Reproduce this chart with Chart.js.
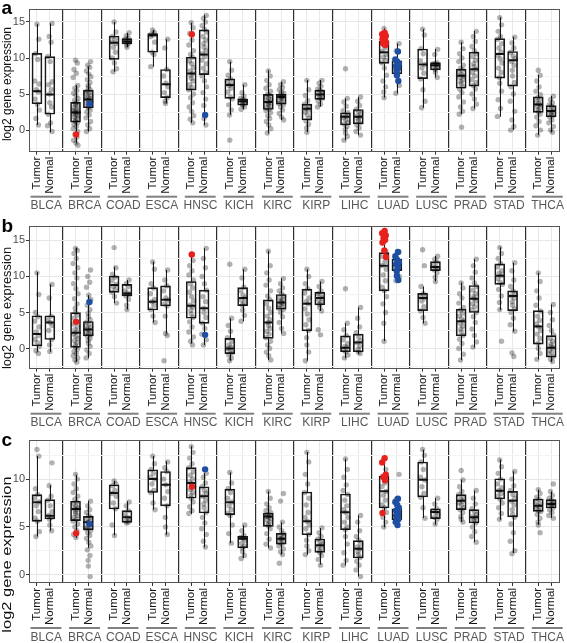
<!DOCTYPE html>
<html><head><meta charset="utf-8">
<script src="https://cdn.jsdelivr.net/npm/chart.js@4.4.1/dist/chart.umd.min.js"></script>
<style>
html,body{margin:0;padding:0;background:#fff;}
#wrap{position:relative;width:567px;height:643px;overflow:hidden;background:#fff;}
canvas{position:absolute;left:0;}
</style></head><body>
<div id="wrap">
<canvas id="pa" width="567" height="215" style="top:0px;width:567px;height:215px"></canvas>
<canvas id="pb" width="567" height="215" style="top:215px;width:567px;height:215px"></canvas>
<canvas id="pc" width="567" height="215" style="top:428px;width:567px;height:215px"></canvas>
</div>
<script>
// ---------------- DATA ----------------
const cancers = ['BLCA','BRCA','COAD','ESCA','HNSC','KICH','KIRC','KIRP','LIHC','LUAD','LUSC','PRAD','STAD','THCA'];
const groups = ['Tumor','Normal'];
const yTicksA = [0,5,10,15];
const yTicksB = [0,5,10,15];
const yTicksC = [0,5,10];

// box stats: [lower whisker, Q1, median, Q3, upper whisker]
const aTumorBox = [[0.7,3.65,5.4,10.65,14.7],[-1.85,1.1,2.45,3.85,6.25],[8.1,9.8,12.1,13.05,15.0],[8.8,10.8,13.15,13.4,13.9],[1.0,5.55,7.85,10.1,14.9],[2.1,4.4,6.25,7.1,9.5],[-0.45,2.85,3.9,4.95,8.3],[-0.3,1.4,2.95,3.6,6.95],[-1.4,0.7,1.85,2.4,4.4],[4.5,9.25,10.8,12.3,14.1],[3.1,7.15,9.1,11.25,14.0],[2.2,5.8,7.55,8.45,12.2],[1.85,7.2,10.55,12.7,15.65],[-0.7,2.45,3.55,4.6,7.65]];
const aNormalBox = [[-0.3,2.2,4.95,10.2,14.8],[-0.2,3.1,4.25,5.55,8.8],[11.5,11.95,12.3,12.7,13.5],[3.7,4.5,6.35,8.4,12.6],[0.7,7.7,10.5,13.9,16.0],[2.9,3.45,4.0,4.35,6.3],[1.4,3.6,4.6,4.95,6.7],[3.25,4.25,4.95,5.55,6.95],[-0.7,0.85,1.85,2.85,4.6],[5.1,7.8,8.9,9.6,12.0],[7.3,8.35,9.0,9.35,11.25],[3.0,6.1,8.45,10.8,13.75],[0.0,6.1,9.7,10.9,12.95],[-0.3,1.85,2.65,3.4,4.75]];
const bTumorBox = [[-0.45,0.35,2.0,4.55,10.6],[-1.85,0.15,2.2,4.97,14.0],[6.3,7.8,8.8,10.05,11.35],[3.6,5.35,6.5,8.45,12.05],[0.7,4.2,5.95,9.3,13.0],[-1.7,-0.7,0.0,1.4,4.2],[-1.6,1.4,3.6,6.75,13.55],[-1.7,2.45,6.2,8.25,11.0],[-1.35,-0.45,0.1,1.75,3.5],[1.05,8.0,11.5,13.3,16.3],[3.5,5.25,7.0,7.65,8.6],[-1.6,1.75,3.8,5.45,9.15],[5.35,8.9,10.1,11.75,14.05],[-1.5,0.6,3.05,5.25,10.5]];
const bNormalBox = [[-0.45,1.25,3.6,4.55,8.9],[-1.35,1.75,2.65,3.75,7.4],[5.4,7.3,7.65,8.9,9.5],[2.1,5.9,6.75,8.7,10.9],[0.5,3.5,5.6,8.1,13.9],[3.8,5.95,7.0,8.45,11.0],[2.1,5.45,6.4,7.5,9.75],[5.2,6.05,7.0,7.8,9.3],[-0.7,-0.45,0.85,2.0,5.7],[9.3,10.8,11.6,12.4,13.45],[9.3,10.8,11.3,12.05,12.85],[0.15,5.0,6.9,8.75,12.4],[2.35,5.25,7.3,8.0,11.9],[-1.85,-1.2,0.1,1.8,6.1]];
const cTumorBox = [[4.0,5.58,7.57,8.37,12.4],[3.84,5.65,6.87,7.68,10.46],[4.12,6.87,8.55,9.41,9.83],[6.8,8.6,10.0,10.98,12.4],[6.35,8.0,9.6,11.2,13.43],[3.3,6.28,7.57,8.96,10.7],[2.8,5.06,6.1,6.45,8.72],[2.1,4.18,5.58,8.65,12.83],[0.98,4.7,6.53,8.44,12.13],[4.96,6.98,8.72,10.29,12.13],[5.93,8.13,9.94,11.79,13.08],[5.51,6.8,7.74,8.37,9.94],[5.75,7.92,8.79,10.04,12.03],[5.23,6.63,7.22,7.92,8.89]];
const cNormalBox = [[4.6,5.83,6.17,7.85,9.35],[2.8,4.7,5.48,6.1,7.74],[5.4,5.48,6.0,6.7,7.68],[4.18,7.2,9.41,10.8,11.86],[2.87,6.45,8.2,9.2,10.64],[1.75,2.8,3.77,4.0,5.17],[2.1,3.2,3.77,4.33,5.48],[1.05,2.34,3.07,3.73,4.88],[-0.17,1.75,2.72,3.56,6.2],[5.17,5.75,6.21,6.9,7.95],[5.23,5.86,6.56,6.9,8.02],[3.42,5.41,6.0,6.8,8.79],[2.27,6.04,7.74,8.72,10.82],[5.93,6.98,7.4,7.85,8.72]];

// individual sample values (grey points)
const aTumorPts = [
 [14.7,12.6,10.6,9.8,6.8,6.4,5.6,5.3,4.3,3.6,2.8,1.6,0.7],
 [9.7,9.3,8.4,7.9,7.3,6.2,5.8,5.5,5.1,4.8,4.4,4.1,3.9,3.7,3.5,3.3,3.1,2.9,2.7,2.6,2.5,2.4,2.3,2.1,2.0,1.8,1.6,1.4,1.2,1.0,0.8,0.5,0.2,-0.2,-0.6,-1.0,-1.4,-1.8,-2.1],
 [15.0,13.6,13.0,12.6,12.2,12.0,11.5,10.8,10.0,9.3,8.5,8.1],
 [13.9,13.5,13.3,13.2,13.0,12.2,10.8,10.5,8.8],
 [14.9,14.2,13.4,12.5,11.8,11.0,10.5,10.1,9.6,9.2,8.7,8.2,7.9,7.6,7.2,6.8,6.3,5.9,5.6,5.0,4.5,3.8,3.2,2.6,2.0,1.5,1.0],
 [9.5,8.3,7.6,7.1,6.7,6.4,6.2,5.8,5.3,4.6,4.3,3.5,2.8,2.1,-1.4],
 [8.2,7.5,6.9,6.3,5.8,5.4,5.0,4.8,4.6,4.4,4.2,4.0,3.9,3.7,3.5,3.3,3.1,2.9,2.7,2.4,2.0,1.6,1.2,0.7,0.2,-0.4],
 [6.9,5.6,4.8,4.1,3.6,3.3,3.0,2.8,2.5,2.1,1.6,1.3,0.8,0.3,-0.3],
 [8.5,4.4,3.9,3.3,2.7,2.4,2.1,1.9,1.7,1.4,1.1,0.8,0.5,0.1,-0.4,-0.9,-1.4],
 [14.1,13.0,12.1,11.4,10.9,10.5,10.1,9.7,9.3,8.6,7.6,6.8,6.0,5.3,4.5],
 [14.0,13.2,11.3,10.6,9.6,9.1,8.6,7.9,7.1,5.6,4.0,3.1],
 [12.2,11.3,10.6,10.0,9.5,9.0,8.6,8.3,8.0,7.7,7.5,7.3,7.0,6.7,6.4,6.0,5.7,5.2,4.6,3.9,3.2,2.6,2.2,0.4],
 [15.6,14.6,13.7,13.0,12.6,12.0,11.4,10.8,10.4,9.9,9.3,8.6,8.0,7.3,6.5,5.4,4.2,3.0,1.9],
 [8.3,7.6,6.8,6.0,5.4,4.9,4.5,4.2,3.9,3.7,3.5,3.3,3.1,2.8,2.5,2.2,1.8,1.2,0.6,0.0,-0.7]
];
const aNormalPts = [
 [14.8,13.0,12.2,10.2,9.5,6.7,6.3,5.6,5.0,3.8,3.2,2.2,1.0,0.6,-0.2],
 [9.5,9.0,8.7,8.2,7.8,7.4,7.0,6.6,6.2,5.9,5.6,5.4,5.2,5.0,4.8,4.6,4.4,4.3,4.1,3.9,3.7,3.5,3.3,3.1,2.8,2.5,2.1,1.7,1.2,0.7,0.2,-0.2],
 [13.5,13.1,12.8,12.6,12.4,12.3,12.2,12.0,11.8,11.5],
 [12.6,11.4,8.4,7.5,6.5,6.0,5.2,4.5,4.0,3.7],
 [15.9,15.5,15.0,14.5,14.0,13.6,13.0,12.5,12.0,11.5,11.0,10.6,10.2,9.7,9.2,8.6,8.0,7.5,6.8,6.0,5.2,4.3,3.4,1.6,0.7],
 [6.3,5.2,4.7,4.4,4.2,4.0,3.9,3.8,3.6,3.5,3.2,2.9],
 [6.7,6.3,5.9,5.6,5.3,5.1,4.9,4.7,4.6,4.5,4.3,4.1,3.9,3.7,3.5,3.2,2.8,2.3,1.8,1.4],
 [6.9,6.5,6.1,5.7,5.5,5.3,5.1,4.9,4.7,4.5,4.3,4.0,3.6,3.2],
 [4.6,4.0,3.4,2.9,2.6,2.3,2.0,1.8,1.6,1.3,1.0,0.7,0.3,-0.2,-0.7],
 [12.0,11.0,9.4,8.6,7.9,6.2,5.1],
 [11.2,10.5,9.4,9.2,9.1,9.0,8.9,8.7,8.4,8.0,7.3],
 [13.7,13.0,12.3,11.6,11.0,10.6,10.2,9.7,9.2,8.8,8.4,8.0,7.5,7.0,6.6,6.2,5.7,5.0,4.3,3.6,3.0],
 [12.9,12.1,11.4,10.8,10.3,9.9,9.5,9.0,8.3,7.5,6.6,6.0,5.0,4.0,2.6,1.4,0.5,0.0],
 [4.7,4.2,3.8,3.5,3.3,3.0,2.8,2.6,2.4,2.2,2.0,1.8,1.4,1.0,0.5,0.0,-0.3]
];
const bTumorPts = [
 [10.5,7.5,5.0,4.4,3.8,3.0,2.3,1.8,1.3,0.8,0.3,-0.3,-0.7],
 [13.9,13.6,13.2,12.5,11.8,11.2,10.5,9.8,9.0,8.3,7.6,6.9,6.2,5.6,5.0,4.6,4.2,3.8,3.4,3.0,2.6,2.3,2.0,1.7,1.4,1.1,0.8,0.5,0.2,-0.1,-0.4,-0.7,-1.0,-1.3,-1.6,-1.9],
 [14.0,11.2,10.3,9.9,9.4,8.9,8.6,8.2,7.8,7.2,6.3],
 [12.0,11.0,9.0,8.4,7.6,6.8,6.5,6.0,5.4,4.5,3.6],
 [13.0,12.2,11.5,10.8,10.2,9.5,9.0,8.4,7.8,7.2,6.6,6.0,5.8,5.3,4.8,4.3,3.7,3.0,2.3,1.6,1.0,0.5],
 [11.7,4.2,3.2,2.4,1.5,1.0,0.5,0.2,0.0,-0.3,-0.6,-0.9,-1.3,-1.7],
 [13.5,11.5,10.5,9.5,8.8,8.0,7.3,6.8,6.2,5.6,5.0,4.5,4.0,3.6,3.2,2.8,2.4,2.0,1.5,1.0,0.5,0.0,-0.5,-1.0,-1.6],
 [11.0,10.0,9.0,8.3,7.7,7.0,6.5,6.2,5.5,4.8,4.0,3.3,2.5,1.5,0.5,-0.5,-1.7],
 [8.3,3.5,2.6,1.8,1.2,0.7,0.3,0.1,-0.2,-0.5,-0.9,-1.3],
 [14.8,13.5,12.8,12.0,11.5,11.0,10.2,9.4,8.5,8.0,7.2,6.2,5.0,3.5,1.0],
 [13.7,11.5,8.6,7.6,7.2,7.0,6.6,5.8,5.2,4.3,3.5],
 [9.1,8.4,7.6,7.0,6.3,5.7,5.3,4.9,4.5,4.1,3.8,3.5,3.1,2.7,2.3,1.8,1.3,0.7,0.0,-0.8,-1.6],
 [14.0,13.2,12.5,11.8,11.3,10.8,10.4,10.1,9.7,9.2,8.9,8.2,7.3,6.4,5.4,1.0],
 [10.5,9.3,8.0,7.0,6.0,5.2,4.5,3.9,3.4,3.0,2.5,2.0,1.4,0.7,0.0,-0.7,-1.5]
];
const bNormalPts = [
 [8.9,7.0,4.5,4.0,3.6,3.2,2.5,1.2,0.5,-0.4],
 [10.9,10.0,9.2,8.5,7.4,6.8,6.0,5.4,4.9,4.4,4.0,3.7,3.4,3.1,2.9,2.7,2.5,2.3,2.1,1.9,1.7,1.4,1.1,0.7,0.3,-0.2,-0.7,-1.3],
 [9.5,9.0,8.6,8.0,7.7,7.5,7.3,6.8,6.0,5.4],
 [10.9,9.5,8.7,8.0,7.0,6.7,6.2,5.9,4.5,2.1,1.8,-1.7],
 [13.9,12.5,11.2,10.0,9.0,8.1,7.2,6.5,5.6,5.0,4.3,3.5,2.8,2.0,1.2,0.5],
 [11.0,9.8,8.5,8.0,7.4,7.0,6.7,6.3,6.0,5.3,4.6,3.8],
 [9.7,9.0,8.4,8.0,7.6,7.3,7.0,6.8,6.6,6.4,6.2,6.0,5.8,5.6,5.4,5.0,4.4,3.6,2.8,2.1],
 [9.3,8.6,8.0,7.6,7.3,7.0,6.7,6.4,6.1,5.7,5.2,2.6,1.9],
 [5.7,4.2,3.0,2.2,1.6,1.1,0.8,0.3,-0.1,-0.5,-0.7],
 [13.4,12.6,11.8,11.2,10.6,10.0,9.4],
 [12.8,12.4,12.0,11.6,11.3,11.1,10.9,10.5,9.9,9.3],
 [12.4,11.5,10.6,9.8,9.1,8.6,8.1,7.6,7.2,6.9,6.6,6.2,5.8,5.4,5.0,4.4,3.6,2.7,1.8,0.9,0.2],
 [11.9,10.8,9.5,8.6,8.0,7.6,7.3,7.0,6.5,6.0,5.5,5.0,4.2,3.3,2.4,-0.6,-1.1],
 [6.1,5.0,4.0,3.2,2.5,1.9,1.4,1.0,0.6,0.3,0.1,-0.2,-0.5,-0.8,-1.1,-1.5,-1.8]
];
const cTumorPts = [
 [13.1,12.4,9.0,8.4,8.0,7.6,7.2,6.6,5.9,5.6,4.5,4.0],
 [10.5,10.0,9.5,9.0,8.6,8.2,7.9,7.6,7.4,7.2,7.0,6.9,6.8,6.6,6.4,6.2,6.0,5.8,5.6,5.3,5.0,4.6,4.2,3.9],
 [9.8,9.5,9.3,8.8,8.5,8.2,7.5,6.9,5.2,4.1],
 [12.4,11.6,11.0,10.6,10.2,10.0,9.5,8.8,8.6,7.5,6.8],
 [13.4,12.8,12.2,11.6,11.2,10.8,10.4,10.0,9.7,9.5,9.2,8.9,8.6,8.3,8.0,7.6,7.1,6.7,6.4],
 [10.7,9.6,9.0,8.6,8.0,7.6,7.2,6.8,6.4,6.2,5.2,4.3,3.3],
 [8.7,8.0,7.4,7.0,6.7,6.5,6.3,6.2,6.1,6.0,5.9,5.7,5.5,5.3,5.1,4.8,4.3,3.7,3.2,2.8],
 [12.8,11.8,10.5,9.5,8.6,8.0,7.3,6.5,6.0,5.6,5.2,4.8,4.2,3.6,3.0,2.5,2.1],
 [12.1,11.0,10.2,9.4,8.8,8.4,7.8,7.2,6.8,6.5,6.0,5.5,5.0,4.7,4.0,3.2,2.3,1.5,1.0],
 [12.1,11.0,10.3,9.6,9.2,8.7,8.3,7.8,7.3,7.0,6.5,6.0,5.5,5.0],
 [13.1,12.5,11.8,11.0,10.2,9.9,9.2,8.5,8.1,7.0,5.9],
 [10.9,9.9,9.2,8.7,8.4,8.1,7.9,7.7,7.5,7.3,7.0,6.8,6.5,6.1,5.8,5.5],
 [12.0,11.3,10.6,10.0,9.5,9.1,8.8,8.5,8.2,7.9,7.5,7.0,6.4,5.8],
 [8.9,8.5,8.1,7.9,7.6,7.4,7.2,7.1,6.9,6.7,6.6,6.3,5.9,5.5,5.2,4.4]
];
const cNormalPts = [
 [11.7,9.3,8.2,7.8,7.2,6.6,6.2,6.0,5.8,5.2,4.6],
 [7.7,7.2,6.8,6.5,6.2,6.0,5.8,5.6,5.5,5.4,5.2,5.0,4.9,4.8,4.6,4.4,4.1,3.8,3.4,3.0,2.6,2.0,1.5,0.9,-0.2],
 [7.6,7.2,6.7,6.3,6.0,5.8,5.6,5.5,5.4],
 [11.8,11.2,10.8,10.0,9.4,8.7,8.0,7.2,6.0,5.0,4.2],
 [10.6,10.2,9.6,9.2,8.8,8.5,8.2,7.8,7.4,7.0,6.5,6.0,5.4,4.8,4.2,3.5,2.9],
 [5.2,4.6,4.1,3.9,3.8,3.6,3.3,3.0,2.8,2.4,2.0,1.7],
 [8.5,7.7,5.5,5.0,4.6,4.3,4.1,3.9,3.8,3.7,3.6,3.4,3.2,3.0,2.7,2.4,2.1,1.2],
 [4.9,4.4,4.0,3.7,3.4,3.2,3.0,2.8,2.5,2.3,2.0,1.6,1.0],
 [6.2,5.5,4.6,4.0,3.6,3.2,2.9,2.7,2.4,2.1,1.8,1.4,1.0,0.5,-0.2],
 [10.5,7.9,6.6,6.0,5.5],
 [8.0,7.4,6.9,6.7,6.5,6.3,6.0,5.8,5.3],
 [8.8,8.0,7.4,6.9,6.6,6.3,6.1,6.0,5.8,5.6,5.4,5.0,4.5,4.0,3.4],
 [10.8,10.0,9.3,8.8,8.4,8.0,7.7,7.3,6.8,6.3,6.0,5.3,4.4,3.5,2.5,2.2],
 [9.5,8.7,8.3,8.0,7.8,7.6,7.5,7.4,7.3,7.2,7.0,6.8,6.5,6.2,5.9]
];

// highlighted samples: red on Tumor, blue on Normal
const aRed  = [[],[-0.6],[],[],[13.3],[],[],[],[],[13.5,13.3,13.1,12.9,12.8,12.6,12.4,12.2,12.0,11.8],[],[],[],[]];
const aBlue = [[],[3.65],[],[],[2.1],[],[],[],[],[10.9,9.8,9.5,9.2,8.9,8.6,8.2,7.6,6.8],[],[],[],[]];
const bRed  = [[],[3.7],[],[],[13.05],[],[],[],[],[16.3,16.0,15.7,15.3,15.1,14.7,13.6,12.7],[],[],[],[]];
const bBlue = [[],[6.45],[],[],[1.9],[],[],[],[],[13.4,12.8,12.3,12.0,11.7,11.3,10.8,10.1,9.5],[],[],[],[]];
const cRed  = [[],[4.33],[],[],[9.2],[],[],[],[],[12.2,11.75,10.46,10.2,9.87,6.45],[],[],[],[]];
const cBlue = [[],[5.3],[],[],[11.02],[],[],[],[],[7.95,7.6,7.3,7.0,6.7,6.4,6.2,6.0,5.8,5.5,5.2],[],[],[],[]];

// ---------------- STYLE / LAYOUT ----------------
const FONT = '"Liberation Sans", Arial, Helvetica, sans-serif';
Chart.defaults.font.family = FONT;
const W = 567, H = 215;
const jit = [0, 0.14, -0.12, 0.06, -0.18, 0.17, -0.05, 0.1, -0.15, 0.03, 0.19, -0.08, 0.12, -0.02];
const X_MIN = 0.38, X_MAX = 41.65;
const RED = '#e8211c', BLUE = '#1f4fa3';

const extras = {
  id: 'extras',
  beforeDatasetsDraw(chart) {
    const o = chart.options.plugins.extras;
    const {ctx, chartArea: ca, scales: {x, y}} = chart;
    ctx.save();
    ctx.beginPath(); ctx.rect(ca.left, ca.top, ca.right - ca.left, ca.bottom - ca.top); ctx.clip();
    ctx.strokeStyle = '#1a1a1a';
    o.stats.forEach(([pos, s]) => {
      const px = Math.round(x.getPixelForValue(pos)) + 0.5;
      ctx.lineWidth = 1;
      ctx.beginPath();
      ctx.moveTo(px, y.getPixelForValue(s[0])); ctx.lineTo(px, y.getPixelForValue(s[1]));
      ctx.moveTo(px, y.getPixelForValue(s[3])); ctx.lineTo(px, y.getPixelForValue(s[4]));
      ctx.stroke();
      ctx.lineWidth = 2;
      const my = y.getPixelForValue(s[2]);
      ctx.beginPath();
      ctx.moveTo(px - 5.5, my); ctx.lineTo(px + 4.5, my);
      ctx.stroke();
    });
    ctx.restore();
  },
  afterDatasetsDraw(chart) {
    const {ctx, chartArea: ca} = chart;
    ctx.save();
    ctx.strokeStyle = '#555';
    ctx.lineWidth = 1;
    ctx.strokeRect(Math.round(ca.left) + 0.5, Math.round(ca.top) + 0.5, Math.round(ca.right - ca.left) - 1, Math.round(ca.bottom - ca.top) - 1);
    ctx.restore();
  },
  afterDraw(chart) {
    const o = chart.options.plugins.extras;
    const {ctx, chartArea: ca, scales: {x}} = chart;
    ctx.save();
    cancers.forEach((c, i) => {
      let x1 = x.getPixelForValue(3 * i + 0.5), x2 = x.getPixelForValue(3 * i + 2.9);
      x1 = Math.max(x1, ca.left); x2 = Math.min(x2, W - 1);
      ctx.fillStyle = '#808080';
      ctx.fillRect(x1, ca.bottom + 44, x2 - x1, 2);
      ctx.fillStyle = '#595959';
      ctx.font = '12px ' + FONT;
      ctx.textAlign = 'center'; ctx.textBaseline = 'alphabetic';
      ctx.fillText(c, x.getPixelForValue(3 * i + 1.72), ca.bottom + 57.5);
    });
    ctx.save();
    ctx.translate(10.5, o.titleY);
    ctx.rotate(-Math.PI / 2);
    ctx.scale(o.titleStretch, 1);
    ctx.fillStyle = '#111';
    ctx.font = '12px ' + FONT;
    ctx.textAlign = 'center'; ctx.textBaseline = 'alphabetic';
    ctx.fillText('log2 gene expression', 0, 0);
    ctx.restore();
    ctx.fillStyle = '#000';
    ctx.font = 'bold 19px ' + FONT;
    ctx.textAlign = 'left'; ctx.textBaseline = 'alphabetic';
    ctx.fillText(o.letter, 1.5, o.letterY);
    ctx.restore();
  }
};

function makePanel(id, g, tBox, nBox, tPts, nPts, red, blue, majors) {
  const pts = [], boxes = [], reds = [], blues = [], stats = [];
  cancers.forEach((c, i) => {
    const pt = 3 * i + 1, pn = 3 * i + 2;
    tPts[i].forEach((v, k) => pts.push({x: pt + jit[k % jit.length], y: v}));
    nPts[i].forEach((v, k) => pts.push({x: pn + jit[(k + 5) % jit.length], y: v}));
    red[i].forEach((v, k) => reds.push({x: pt + jit[(k + 3) % jit.length] * 0.8, y: v}));
    blue[i].forEach((v, k) => blues.push({x: pn + jit[(k + 7) % jit.length] * 0.8, y: v}));
    boxes.push({x: pt, y: [tBox[i][1], tBox[i][3]]}, {x: pn, y: [nBox[i][1], nBox[i][3]]});
    stats.push([pt, tBox[i]], [pn, nBox[i]]);
  });
  const xTicks = [];
  for (let v = 1; v <= 41; v++) xTicks.push(v);
  const yTicks = [];
  for (let v = Math.ceil(g.yMin / 2.5) * 2.5; v <= g.yMax; v += 2.5) yTicks.push(v);
  const isMajor = v => majors.includes(v);
  return new Chart(document.getElementById(id), {
    type: 'bar',
    data: {
      datasets: [
        {type: 'scatter', data: reds, backgroundColor: RED, borderWidth: 0, pointRadius: 3.2, pointHoverRadius: 3.2},
        {type: 'scatter', data: blues, backgroundColor: BLUE, borderWidth: 0, pointRadius: 3.2, pointHoverRadius: 3.2},
        {type: 'scatter', data: pts, backgroundColor: 'rgba(0,0,0,0.3)', borderWidth: 0, pointRadius: 2.7, pointHoverRadius: 2.7},
        {type: 'bar', data: boxes, barThickness: 10, grouped: false, backgroundColor: 'rgba(255,255,255,0)', borderColor: '#1a1a1a', borderWidth: 1, borderSkipped: false}
      ]
    },
    options: {
      responsive: false, animation: false, devicePixelRatio: 1, events: [],
      layout: {padding: {top: g.top, right: 2, left: 0, bottom: 0}},
      plugins: {legend: {display: false}, tooltip: {enabled: false},
        extras: {stats, titleY: g.titleY, titleStretch: g.titleStretch, letter: g.letter, letterY: g.letterY}},
      scales: {
        x: {
          type: 'linear', min: X_MIN, max: X_MAX, offset: false,
          afterBuildTicks: s => { s.ticks = xTicks.map(v => ({value: v})); },
          afterFit: s => { s.height = H - g.bottom; },
          border: {display: false},
          grid: {
            offset: false, drawOnChartArea: true, tickLength: 3,
            color: c => (c.tick && c.tick.value % 3 === 0) ? '#2e2e2e' : '#e8e8e8',
            lineWidth: c => (c.tick && c.tick.value % 3 === 0) ? 1.2 : 1,
            tickColor: c => (c.tick && c.tick.value % 3 === 0) ? 'rgba(0,0,0,0)' : '#333'
          },
          ticks: {
            autoSkip: false, maxRotation: 90, minRotation: 90, padding: 2, color: '#111',
            font: {size: 11.5, family: FONT},
            callback: v => v % 3 === 1 ? groups[0] : (v % 3 === 2 ? groups[1] : '')
          }
        },
        y: {
          type: 'linear', min: g.yMin, max: g.yMax,
          afterBuildTicks: s => { s.ticks = yTicks.map(v => ({value: v})); },
          afterFit: s => { s.width = 29; },
          border: {display: false},
          grid: {
            tickLength: 3,
            color: c => (c.tick && isMajor(c.tick.value)) ? '#e6e6e6' : '#f3f3f3',
            tickColor: c => (c.tick && isMajor(c.tick.value)) ? '#333' : 'rgba(0,0,0,0)'
          },
          ticks: {
            padding: 1, color: '#4d4d4d', font: {size: 11, family: FONT},
            callback: v => isMajor(v) ? String(v) : ''
          }
        }
      }
    },
    plugins: [extras]
  });
}

makePanel('pa', {top: 9, bottom: 151.7, yMin: -3.0, yMax: 16.8, letter: 'a', letterY: 13.5, titleY: 84, titleStretch: 1.0},
  aTumorBox, aNormalBox, aTumorPts, aNormalPts, aRed, aBlue, yTicksA);
makePanel('pb', {top: 11, bottom: 153.7, yMin: -2.8, yMax: 17.0, letter: 'b', letterY: 16.7, titleY: 93, titleStretch: 1.07},
  bTumorBox, bNormalBox, bTumorPts, bNormalPts, bRed, bBlue, yTicksB);
makePanel('pc', {top: 12.3, bottom: 155, yMin: -0.87, yMax: 14.06, letter: 'c', letterY: 18.3, titleY: 126.5, titleStretch: 1.37},
  cTumorBox, cNormalBox, cTumorPts, cNormalPts, cRed, cBlue, yTicksC);
</script>
</body></html>
